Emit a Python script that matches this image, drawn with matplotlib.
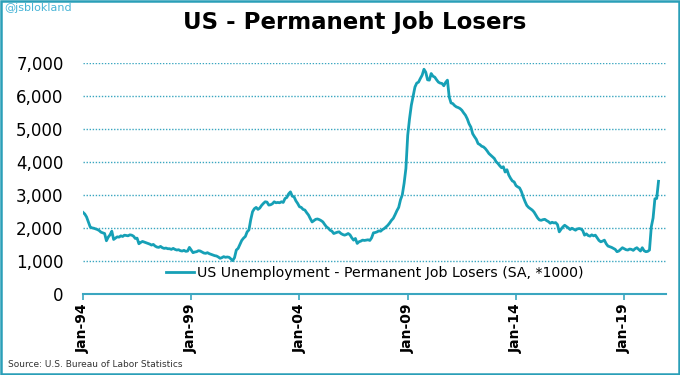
import matplotlib
matplotlib.use("Agg")
import matplotlib.pyplot as plt
from matplotlib.patches import Rectangle
import numpy as np

# Monthly values (thousands), Jan-1994 .. Aug-2020
y1994 = [2470, 2420, 2330, 2180, 2030, 2000, 1990, 1970, 1950, 1920, 1870, 1850]
y1995 = [1830, 1610, 1720, 1790, 1900, 1650, 1690, 1730, 1720, 1760, 1740, 1780]
y1996 = [1770, 1760, 1790, 1780, 1750, 1680, 1690, 1520, 1560, 1590, 1570, 1550]
y1997 = [1530, 1510, 1480, 1500, 1450, 1420, 1410, 1440, 1400, 1380, 1390, 1370]
y1998 = [1370, 1350, 1380, 1350, 1330, 1340, 1310, 1300, 1320, 1290, 1300, 1410]
y1999 = [1330, 1250, 1270, 1280, 1310, 1300, 1270, 1240, 1230, 1250, 1220, 1200]
y2000 = [1180, 1160, 1150, 1120, 1080, 1100, 1130, 1110, 1120, 1110, 1060, 1010]
y2001 = [1100, 1330, 1380, 1500, 1620, 1690, 1740, 1880, 1940, 2250, 2490, 2580]
y2002 = [2620, 2560, 2600, 2680, 2740, 2790, 2780, 2690, 2700, 2730, 2790, 2760]
y2003 = [2770, 2760, 2790, 2770, 2890, 2920, 3030, 3090, 2960, 2940, 2820, 2740]
y2004 = [2640, 2620, 2560, 2540, 2460, 2390, 2280, 2180, 2220, 2260, 2270, 2250]
y2005 = [2220, 2180, 2100, 2030, 1990, 1930, 1900, 1830, 1850, 1870, 1880, 1830]
y2006 = [1800, 1780, 1800, 1830, 1790, 1700, 1630, 1680, 1530, 1580, 1600, 1630]
y2007 = [1620, 1630, 1640, 1620, 1700, 1850, 1860, 1880, 1910, 1900, 1950, 1980]
y2008 = [2030, 2080, 2150, 2230, 2290, 2400, 2520, 2620, 2850, 3000, 3350, 3800]
y2009 = [4800, 5300, 5710, 5980, 6260, 6380, 6410, 6520, 6620, 6800, 6710, 6480]
y2010 = [6470, 6670, 6590, 6560, 6480, 6410, 6380, 6370, 6300, 6400, 6470, 5960]
y2011 = [5780, 5760, 5700, 5660, 5640, 5610, 5560, 5480, 5410, 5300, 5150, 5050]
y2012 = [4850, 4760, 4680, 4550, 4520, 4470, 4450, 4400, 4330, 4250, 4200, 4150]
y2013 = [4100, 4000, 3950, 3880, 3820, 3850, 3690, 3760, 3600, 3500, 3420, 3390]
y2014 = [3280, 3240, 3210, 3100, 2940, 2800, 2680, 2620, 2580, 2540, 2480, 2390]
y2015 = [2300, 2240, 2230, 2250, 2260, 2220, 2190, 2140, 2170, 2150, 2160, 2100]
y2016 = [1880, 1960, 2030, 2080, 2040, 2000, 1950, 1990, 1960, 1930, 1970, 1980]
y2017 = [1970, 1920, 1780, 1820, 1770, 1750, 1790, 1760, 1780, 1700, 1620, 1580]
y2018 = [1600, 1630, 1520, 1450, 1430, 1410, 1380, 1350, 1280, 1300, 1350, 1400]
y2019 = [1370, 1340, 1330, 1360, 1350, 1320, 1370, 1400, 1350, 1300, 1400, 1310]
y2020 = [1280, 1290, 1330, 2030, 2300, 2880, 2890, 3410]

xtick_labels = ["Jan-94", "Jan-99", "Jan-04", "Jan-09", "Jan-14", "Jan-19"]
ytick_values = [0, 1000, 2000, 3000, 4000, 5000, 6000, 7000]

values = (y1994 + y1995 + y1996 + y1997 + y1998 + y1999 + y2000 + y2001 + y2002
          + y2003 + y2004 + y2005 + y2006 + y2007 + y2008 + y2009 + y2010 + y2011
          + y2012 + y2013 + y2014 + y2015 + y2016 + y2017 + y2018 + y2019 + y2020)
months = np.arange(len(values))

TEAL = "#16a0b6"
GRID = "#3aa6c0"

fig = plt.figure(figsize=(6.8, 3.75), dpi=100)
fig.patch.set_facecolor("white")
fig.patches.append(Rectangle((0.002, 0.003), 0.996, 0.994, transform=fig.transFigure,
                             fill=False, edgecolor="#2a9fb8", linewidth=1.8))

ax = fig.add_axes([0.122, 0.216, 0.857, 0.617])
ax.plot(months, values, color=TEAL, linewidth=2.0,
        label="US Unemployment - Permanent Job Losers (SA, *1000)")

ax.set_xlim(0, 323)
ax.set_ylim(0, 7000)
ax.set_yticks(ytick_values)
ax.set_yticklabels([f"{v:,}" for v in ytick_values], fontsize=12)
ax.set_xticks([i * 60 for i in range(len(xtick_labels))])
ax.set_xticklabels(xtick_labels, rotation=90, fontsize=10, fontweight="bold")

for v in ytick_values[1:]:
    ax.axhline(v, color=GRID, linewidth=1.0, linestyle=(0, (1, 1.2)), zorder=0)

for s in ["top", "right", "left"]:
    ax.spines[s].set_visible(False)
ax.spines["bottom"].set_color(GRID)
ax.spines["bottom"].set_linewidth(1.5)
ax.tick_params(axis="y", length=0, pad=14)
ax.tick_params(axis="x", length=4, color=GRID, width=1.2, pad=3)

leg = ax.legend(loc="lower center", bbox_to_anchor=(0.5, 0.005), frameon=False,
                fontsize=10.2, handlelength=2.0, handletextpad=0.2)

fig.text(0.522, 0.94, "US - Permanent Job Losers", ha="center", va="center",
         fontsize=16.5, fontweight="bold")
fig.text(0.006, 0.978, "@jsblokland", ha="left", va="center", fontsize=8,
         color="#48b4d6")
fig.text(0.012, 0.027, "Source: U.S. Bureau of Labor Statistics", ha="left",
         va="center", fontsize=6.5, color="#333333")

fig.savefig("out.png", dpi=100)
